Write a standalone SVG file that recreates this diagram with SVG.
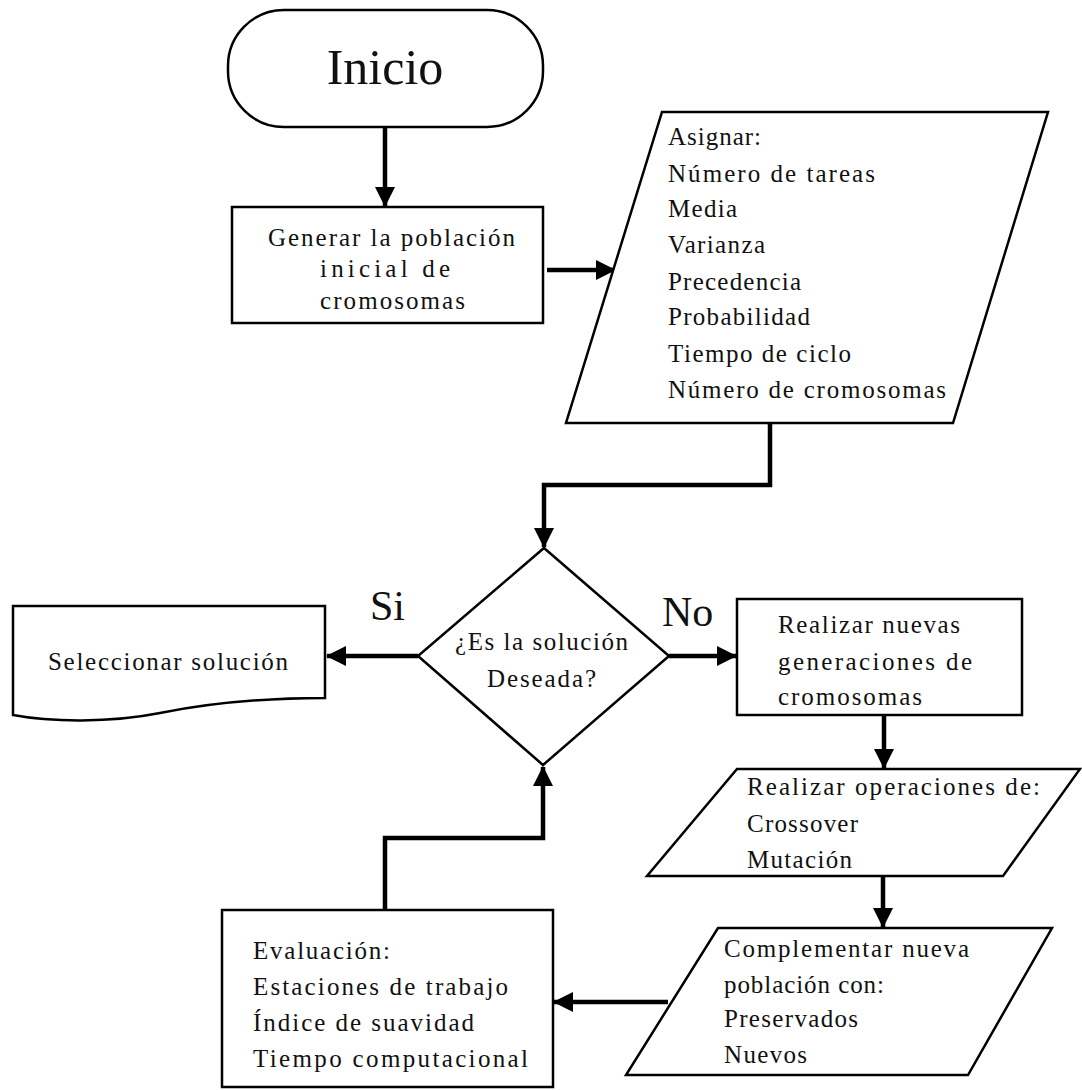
<svg xmlns="http://www.w3.org/2000/svg" width="1082" height="1090" viewBox="0 0 1082 1090" font-family="Liberation Serif">
<defs>
<marker id="ah" viewBox="0 0 20 20" refX="19" refY="10" markerWidth="20" markerHeight="20" markerUnits="userSpaceOnUse" orient="auto">
<path d="M0,0 L20,10 L0,20 Z" fill="#000"/>
</marker>
</defs>
<rect width="1082" height="1090" fill="#fff"/>

<g id="connectors" fill="none" stroke="#000" stroke-width="4.5">
<path d="M385,127 V206" marker-end="url(#ah)"/>
<path d="M547,270 H615" marker-end="url(#ah)"/>
<path d="M770,423 V485 H544 V547" marker-end="url(#ah)"/>
<path d="M418,656 H327" marker-end="url(#ah)"/>
<path d="M669,656 H736" marker-end="url(#ah)"/>
<path d="M884,715 V768" marker-end="url(#ah)"/>
<path d="M883,876 V927" marker-end="url(#ah)"/>
<path d="M668,1002 H554" marker-end="url(#ah)"/>
<path d="M385,910 V838 H543 V767" marker-end="url(#ah)"/>
</g>

<g id="inicio">
<rect x="228" y="10" width="315" height="117" rx="56" ry="56" fill="#fff" stroke="#000" stroke-width="2.5"/>
<text style="font-family:'Liberation Serif',serif" font-size="50" fill="#111" x="385" y="84" text-anchor="middle">Inicio</text>
</g>

<g id="generar">
<rect x="232" y="207" width="311" height="116" fill="#fff" stroke="#000" stroke-width="2.5"/>
<text style="font-family:'Liberation Serif',serif" font-size="25" fill="#111" x="268" y="246" textLength="247" lengthAdjust="spacing">Generar la población</text>
<text style="font-family:'Liberation Serif',serif" font-size="25" fill="#111" x="320" y="277" textLength="130" lengthAdjust="spacing">inicial de</text>
<text style="font-family:'Liberation Serif',serif" font-size="25" fill="#111" x="320" y="309" textLength="145" lengthAdjust="spacing">cromosomas</text>
</g>

<g id="asignar">
<polygon points="662,112 1048,112 953,423 566,423" fill="#fff" stroke="#000" stroke-width="2.5"/>
<text style="font-family:'Liberation Serif',serif" font-size="25" fill="#111" x="668" y="145" textLength="93" lengthAdjust="spacing">Asignar:</text>
<text style="font-family:'Liberation Serif',serif" font-size="25" fill="#111" x="668" y="182" textLength="207" lengthAdjust="spacing">Número de tareas</text>
<text style="font-family:'Liberation Serif',serif" font-size="25" fill="#111" x="668" y="217" textLength="69" lengthAdjust="spacing">Media</text>
<text style="font-family:'Liberation Serif',serif" font-size="25" fill="#111" x="668" y="253" textLength="97" lengthAdjust="spacing">Varianza</text>
<text style="font-family:'Liberation Serif',serif" font-size="25" fill="#111" x="668" y="290" textLength="133" lengthAdjust="spacing">Precedencia</text>
<text style="font-family:'Liberation Serif',serif" font-size="25" fill="#111" x="668" y="325" textLength="142" lengthAdjust="spacing">Probabilidad</text>
<text style="font-family:'Liberation Serif',serif" font-size="25" fill="#111" x="668" y="362" textLength="183" lengthAdjust="spacing">Tiempo de ciclo</text>
<text style="font-family:'Liberation Serif',serif" font-size="25" fill="#111" x="668" y="398" textLength="278" lengthAdjust="spacing">Número de cromosomas</text>
</g>

<g id="decision">
<polygon points="544,548 669,656 543,765 418,656" fill="#fff" stroke="#000" stroke-width="2.5"/>
<text style="font-family:'Liberation Serif',serif" font-size="25" fill="#111" x="455" y="650" textLength="173" lengthAdjust="spacing">¿Es la solución</text>
<text style="font-family:'Liberation Serif',serif" font-size="25" fill="#111" x="487" y="687" textLength="109" lengthAdjust="spacing">Deseada?</text>
</g>

<g id="label-si">
<text style="font-family:'Liberation Serif',serif" font-size="42" fill="#111" x="370" y="620">Si</text>
</g>
<g id="label-no">
<text style="font-family:'Liberation Serif',serif" font-size="42" fill="#111" x="662" y="626">No</text>
</g>

<g id="seleccionar">
<path d="M13,606 H325 V698 C260,698 200,705 160,713 C110,723 50,722 13,715 Z" fill="#fff" stroke="#000" stroke-width="2.5"/>
<text style="font-family:'Liberation Serif',serif" font-size="25" fill="#111" x="48" y="670" textLength="240" lengthAdjust="spacing">Seleccionar solución</text>
</g>

<g id="nuevas">
<rect x="737" y="599" width="285" height="116" fill="#fff" stroke="#000" stroke-width="2.5"/>
<text style="font-family:'Liberation Serif',serif" font-size="25" fill="#111" x="778" y="633" textLength="182" lengthAdjust="spacing">Realizar nuevas</text>
<text style="font-family:'Liberation Serif',serif" font-size="25" fill="#111" x="778" y="670" textLength="194" lengthAdjust="spacing">generaciones de</text>
<text style="font-family:'Liberation Serif',serif" font-size="25" fill="#111" x="778" y="705" textLength="144" lengthAdjust="spacing">cromosomas</text>
</g>

<g id="operaciones">
<polygon points="737,769 1080,769 1003,876 647,876" fill="#fff" stroke="#000" stroke-width="2.5"/>
<text style="font-family:'Liberation Serif',serif" font-size="25" fill="#111" x="747" y="795" textLength="293" lengthAdjust="spacing">Realizar operaciones de:</text>
<text style="font-family:'Liberation Serif',serif" font-size="25" fill="#111" x="747" y="832" textLength="111" lengthAdjust="spacing">Crossover</text>
<text style="font-family:'Liberation Serif',serif" font-size="25" fill="#111" x="747" y="868" textLength="105" lengthAdjust="spacing">Mutación</text>
</g>

<g id="complementar">
<polygon points="718,928 1052,928 968,1075 626,1075" fill="#fff" stroke="#000" stroke-width="2.5"/>
<text style="font-family:'Liberation Serif',serif" font-size="25" fill="#111" x="724" y="957" textLength="245" lengthAdjust="spacing">Complementar nueva</text>
<text style="font-family:'Liberation Serif',serif" font-size="25" fill="#111" x="724" y="993" textLength="160" lengthAdjust="spacing">población con:</text>
<text style="font-family:'Liberation Serif',serif" font-size="25" fill="#111" x="724" y="1027" textLength="134" lengthAdjust="spacing">Preservados</text>
<text style="font-family:'Liberation Serif',serif" font-size="25" fill="#111" x="724" y="1063" textLength="83" lengthAdjust="spacing">Nuevos</text>
</g>

<g id="evaluacion">
<rect x="222" y="910" width="331" height="177" fill="#fff" stroke="#000" stroke-width="2.5"/>
<text style="font-family:'Liberation Serif',serif" font-size="25" fill="#111" x="253" y="959" textLength="137" lengthAdjust="spacing">Evaluación:</text>
<text style="font-family:'Liberation Serif',serif" font-size="25" fill="#111" x="253" y="995" textLength="255" lengthAdjust="spacing">Estaciones de trabajo</text>
<text style="font-family:'Liberation Serif',serif" font-size="25" fill="#111" x="253" y="1031" textLength="221" lengthAdjust="spacing">Índice de suavidad</text>
<text style="font-family:'Liberation Serif',serif" font-size="25" fill="#111" x="253" y="1067" textLength="275" lengthAdjust="spacing">Tiempo computacional</text>
</g>
</svg>
